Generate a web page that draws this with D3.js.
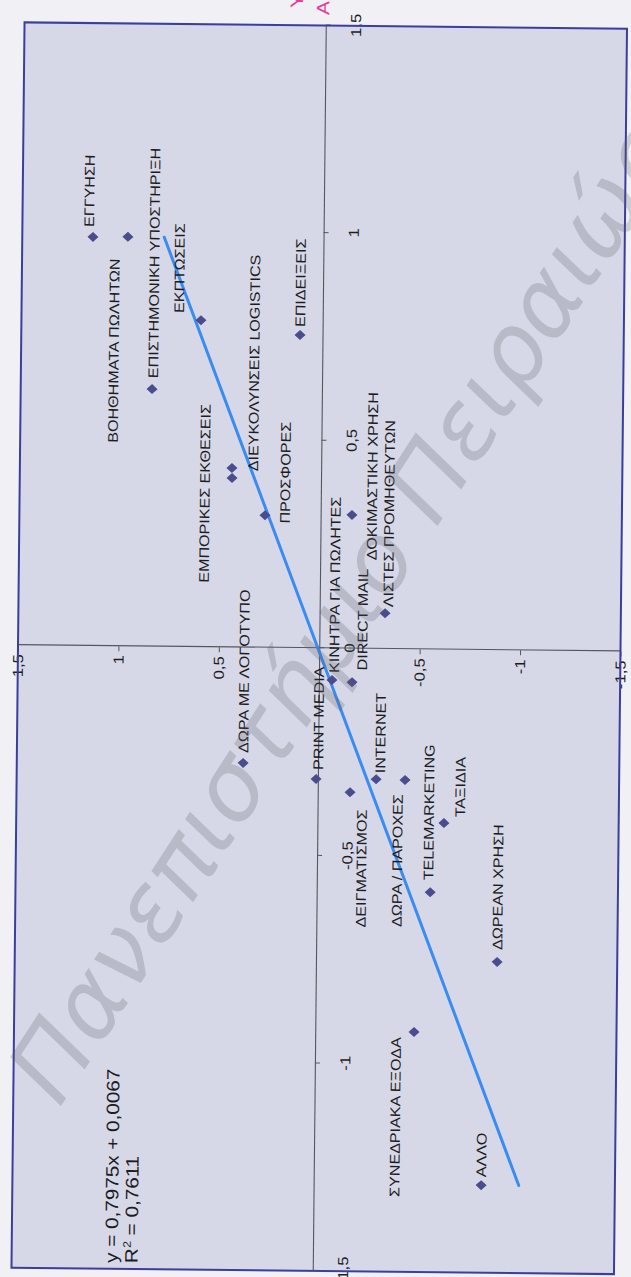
<!DOCTYPE html>
<html>
<head>
<meta charset="utf-8">
<script src="https://cdn.jsdelivr.net/npm/d3@7"></script>
<style>
  html, body { margin: 0; padding: 0; background: #f0f0f5; }
  svg { display: block; }
</style>
</head>
<body>
<svg id="chart" width="631" height="1277"></svg>
<script>
// Promotion tools: factor scores (x) against importance scores (y)
const names = [
  "ΕΓΓΥΗΣΗ", "ΒΟΗΘΗΜΑΤΑ ΠΩΛΗΤΩΝ", "ΕΠΙΣΤΗΜΟΝΙΚΗ ΥΠΟΣΤΗΡΙΞΗ", "ΕΚΠΤΩΣΕΙΣ",
  "ΕΠΙΔΕΙΞΕΙΣ", "ΕΜΠΟΡΙΚΕΣ ΕΚΘΕΣΕΙΣ", "ΔΙΕΥΚΟΛΥΝΣΕΙΣ LOGISTICS", "ΠΡΟΣΦΟΡΕΣ",
  "ΔΟΚΙΜΑΣΤΙΚΗ ΧΡΗΣΗ", "ΛΙΣΤΕΣ ΠΡΟΜΗΘΕΥΤΩΝ", "ΚΙΝΗΤΡΑ ΓΙΑ ΠΩΛΗΤΕΣ", "DIRECT MAIL",
  "ΔΩΡΑ ΜΕ ΛΟΓΟΤΥΠΟ", "PRINT MEDIA", "ΔΕΙΓΜΑΤΙΣΜΟΣ", "INTERNET",
  "ΔΩΡΑ / ΠΑΡΟΧΕΣ", "TELEMARKETING", "ΤΑΞΙΔΙΑ", "ΔΩΡΕΑΝ ΧΡΗΣΗ",
  "ΣΥΝΕΔΡΙΑΚΑ ΕΞΟΔΑ", "ΑΛΛΟ"
];
const xValues = [
  0.985, 0.986, 0.620, 0.787,
  0.754, 0.432, 0.408, 0.319,
  0.322, 0.086, -0.076, -0.081,
  -0.278, -0.315, -0.346, -0.314,
  -0.315, -0.585, -0.418, -0.751,
  -0.922, -1.289
];
const yValues = [
  1.148, 0.974, 0.846, 0.606,
  0.112, 0.444, 0.443, 0.277,
  -0.156, -0.326, -0.065, -0.165,
  0.373, 0.009, -0.161, -0.290,
  -0.434, -0.565, -0.630, -0.902,
  -0.492, -0.834
];
const xTicks = [-1.5, -1, -0.5, 0, 0.5, 1, 1.5];
const yTicks = [-1.5, -1, -0.5, 0.5, 1, 1.5];
const trendSlope = 0.7975;
const trendIntercept = 0.0067;
const rSquared = 0.7611;

// Hand-placed label offsets in px (along x, along y-down) for crowded points
const labelShift = [
  [10, -4], [-206, -13], [11, 1], [7, -22],
  [8, 0], [-115, -27], [7, 21], [-8, 20],
  [-45, 20], [6, 3], [7, 2], [12, 10],
  [10, 0], [9, 2], [-135, 12], [6, 4],
  [-147, -7], [12, -2], [6, 16], [12, 0],
  [-165, -18], [8, 0]
];

const W = 1245.5, H = 602.5;       // plot area (landscape, before turning)
const STRETCH = 1.15;               // text is printed slightly wide
const FONT = "'Liberation Sans', Arial, sans-serif";
const fmt = v => String(v).replace(".", ",");

const svg = d3.select("#chart");
const root = svg.append("g").attr("transform", "rotate(0.6 319 648)");
// landscape chart turned a quarter turn so its x axis runs up the page
const g = root.append("g").attr("transform", "translate(18,1271) rotate(-90)");

const x = d3.scaleLinear().domain([-1.5, 1.5]).range([0, W]);
const y = d3.scaleLinear().domain([-1.5, 1.5]).range([H, 0]);

g.append("rect").attr("width", W).attr("height", H).attr("fill", "#d7d8e7");

// axes crossing at the origin
const xAxis = g.append("g")
  .attr("transform", `translate(0,${y(0)})`)
  .call(d3.axisBottom(x).tickValues(xTicks).tickFormat(fmt)
    .tickSizeInner(5).tickSizeOuter(0).tickPadding(20));
const yAxis = g.append("g")
  .attr("transform", `translate(${x(0)},0)`)
  .call(d3.axisLeft(y).tickValues(yTicks).tickFormat(fmt)
    .tickSizeInner(5).tickSizeOuter(0).tickPadding(5));
[xAxis, yAxis].forEach(a => {
  a.select(".domain").attr("stroke", "#55565e").attr("stroke-width", 1.1);
  a.selectAll(".tick line").attr("stroke", "#55565e");
  a.selectAll(".tick text")
    .attr("fill", "#1c1c22")
    .style("font-family", FONT)
    .style("font-size", "14.5px")
    .attr("transform", `scale(${STRETCH},1)`);
});
yAxis.selectAll(".tick text").attr("x", -9 / STRETCH);

// regression line over the range of the data
const xExt = d3.extent(xValues);
g.append("line")
  .attr("x1", x(xExt[0])).attr("y1", y(trendSlope * xExt[0] + trendIntercept))
  .attr("x2", x(xExt[1])).attr("y2", y(trendSlope * xExt[1] + trendIntercept))
  .attr("stroke", "#3b8cf0").attr("stroke-width", 3).attr("stroke-linecap", "round");

const points = names.map((n, i) => ({ name: n, x: xValues[i], y: yValues[i], shift: labelShift[i] }));

g.selectAll("path.pt").data(points).join("path")
  .attr("class", "pt")
  .attr("d", "M-5,0L0,-5.5L5,0L0,5.5Z")
  .attr("transform", d => `translate(${x(d.x)},${y(d.y)})`)
  .attr("fill", "#4a4c8e");

g.selectAll("text.lbl").data(points).join("text")
  .attr("class", "lbl")
  .attr("transform", d => `translate(${x(d.x) + d.shift[0]},${y(d.y) + d.shift[1]}) scale(${STRETCH},1)`)
  .attr("dy", "0.35em")
  .attr("fill", "#1c1c22")
  .style("font-family", FONT)
  .style("font-size", "14px")
  .text(d => d.name);

// regression equation
const eq = g.append("g").style("font-family", FONT).style("font-size", "18px").attr("fill", "#1c1c22");
eq.append("text")
  .attr("transform", `translate(6,106) scale(${STRETCH},1)`)
  .text(`y = ${fmt(trendSlope)}x + ${fmt(trendIntercept)}`);
const r2 = eq.append("text").attr("transform", `translate(6,126) scale(${STRETCH},1)`);
r2.append("tspan").text("R");
r2.append("tspan").attr("dy", -7).style("font-size", "11px").text("2");
r2.append("tspan").attr("dy", 7).text(` = ${fmt(rSquared)}`);

// plot area border
g.append("rect").attr("width", W).attr("height", H)
  .attr("fill", "none").attr("stroke", "#3b3e9e").attr("stroke-width", 2);

// pink caption lines beyond the right edge
const cap = g.append("g").style("font-family", FONT).style("font-size", "18px").attr("fill", "#e23d96");
cap.append("text").attr("transform", `translate(1262.7,272) scale(${STRETCH},1)`).attr("dy", "0.35em").text("Υ");
cap.append("text").attr("transform", `translate(1256,298.4) scale(${STRETCH},1)`).attr("dy", "0.35em").text("ΑΙ");

// faint diagonal stamp across the sheet
svg.append("text")
  .attr("transform", "translate(342,612) rotate(-57)")
  .attr("text-anchor", "middle")
  .attr("dy", "0.35em")
  .attr("textLength", 1140)
  .attr("lengthAdjust", "spacingAndGlyphs")
  .style("font-family", "'DejaVu Sans', sans-serif")
  .style("font-style", "italic")
  .style("font-size", "95px")
  .attr("fill", "#5e5e6a")
  .attr("opacity", 0.24)
  .text("Πανεπιστήμιο Πειραιώς");
</script>
</body>
</html>
